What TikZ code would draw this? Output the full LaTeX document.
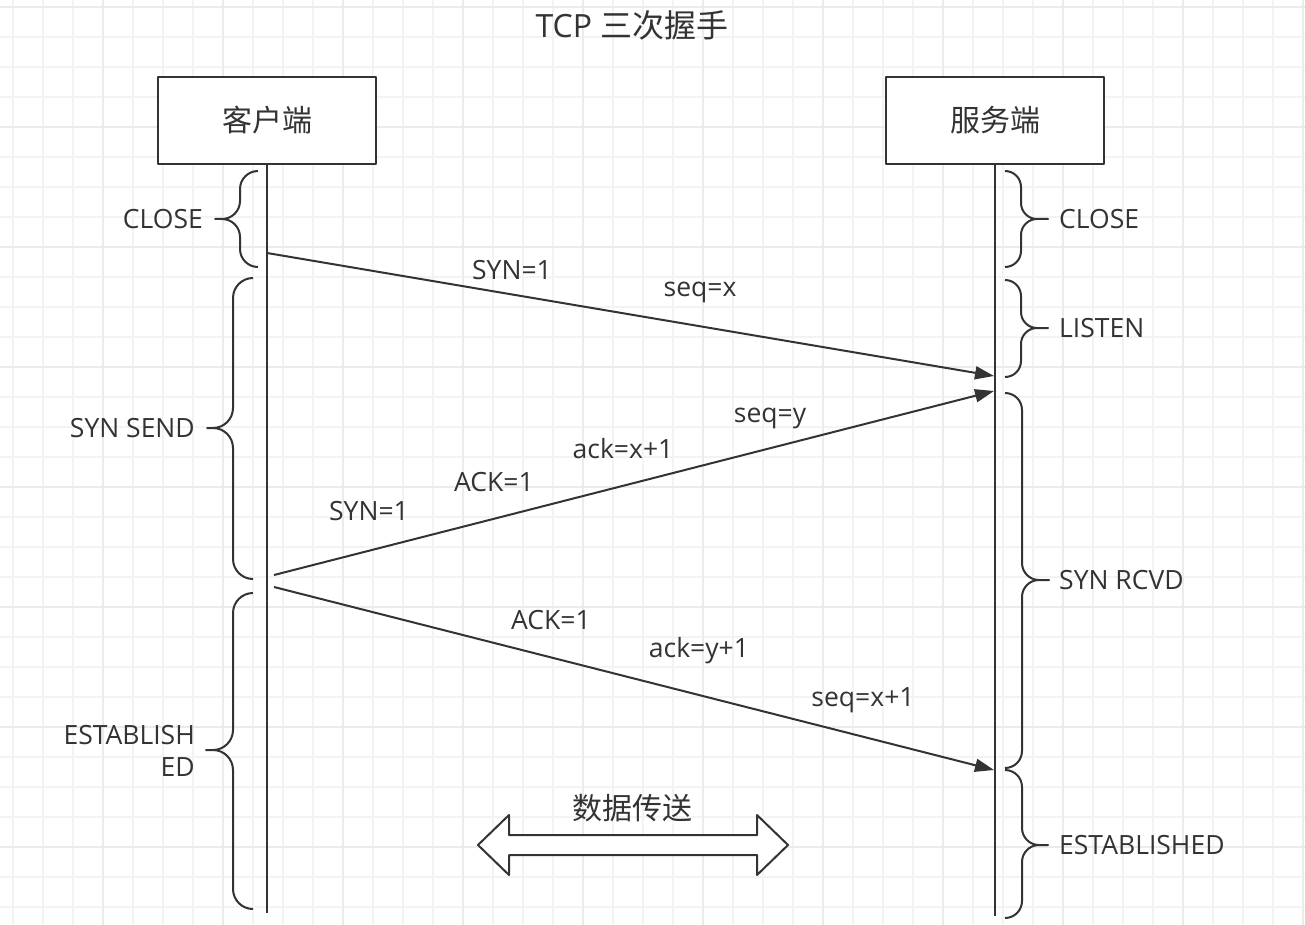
\documentclass[tikz,border=0pt]{standalone}
\usepackage{fontspec}
\setmainfont{Open Sans}
\newfontfamily\cjk{Noto Sans CJK SC}
\usetikzlibrary{arrows.meta}
\definecolor{ink}{HTML}{333333}
\definecolor{gridminor}{HTML}{F3F3F3}
\definecolor{gridmajor}{HTML}{EBEBEB}
% brace: #1 = vertical x, #2 = end x, #3 = tip x, #4 = top y, #5 = tip y, #6 = bottom y
\newcommand\mybrace[6]{%
  \draw[ln] (#2,#4) .. controls ({#1+0.448*(#2-#1)},#4) and (#1,{#4+0.448*abs(#2-#1)}) .. (#1,{#4+abs(#2-#1)})
    -- (#1,{#5-abs(#2-#1)}) .. controls (#1,{#5-0.448*abs(#2-#1)}) and ({#1-0.448*(#2-#1)},#5) .. ({#1-(#2-#1)},#5)
    -- (#3,#5) -- ({#1-(#2-#1)},#5)
    .. controls ({#1-0.448*(#2-#1)},#5) and (#1,{#5+0.448*abs(#2-#1)}) .. (#1,{#5+abs(#2-#1)})
    -- (#1,{#6-abs(#2-#1)}) .. controls (#1,{#6-0.448*abs(#2-#1)}) and ({#1+0.448*(#2-#1)},#6) .. (#2,#6);}
\begin{document}
\begin{tikzpicture}[x=1pt,y=-1pt,
  ln/.style={draw=ink, line width=2pt, line join=round},
  msg/.style={ln, -{Triangle[length=19pt,width=13pt]}},
  box/.style={ln, fill=white, minimum width=218pt, minimum height=87pt, inner sep=0pt, text=ink, font=\cjk\fontsize{30}{36}\selectfont},
  lbl/.style={text=ink, font=\fontsize{26.5}{32}\selectfont, inner sep=0pt},
  title/.style={text=ink, font=\fontsize{32}{38}\selectfont, inner sep=0pt}]
\useasboundingbox (0,0) rectangle (1305,925);
\fill[white] (0,0) rectangle (1305,925);
% grid
\foreach \k in {0,...,43} \draw[gridminor, line width=2pt] ({12.7+30*\k},0) -- ({12.7+30*\k},925);
\foreach \k in {0,...,30} \draw[gridminor, line width=2pt] (0,{6.7+30*\k}) -- (1305,{6.7+30*\k});
\foreach \k in {0,...,10} \draw[gridmajor, line width=2pt] ({102.7+120*\k},0) -- ({102.7+120*\k},925);
\foreach \k in {0,...,7} \draw[gridmajor, line width=2pt] (0,{6.7+120*\k}) -- (1305,{6.7+120*\k});

% title
\node[title] (ttl) at (632,25) {TCP {\cjk 三次握手}};

% participants
\node[box] (client) at (267,120.5) {客户端};
\node[box] (server) at (995,120.5) {服务端};
\coordinate (cend) at (267,913);
\coordinate (send) at (995,916);
\draw[ln] (client.south) -- (cend);
\draw[ln] (server.south) -- (send);

% client braces
\mybrace{240}{258}{215}{171}{219}{267}
\mybrace{233}{253}{207}{278}{428}{579}
\mybrace{233}{253}{206}{593}{750}{909}
\node[lbl, anchor=east] (cclose) at (203,219) {CLOSE};
\node[lbl, anchor=east] (csyn) at (195,428) {SYN SEND};
\node[lbl, anchor=east, align=right] (cest) at (195,751) {ESTABLISH\\ED};

% server braces
\mybrace{1021}{1005}{1048}{171}{219}{267}
\mybrace{1021}{1005}{1048}{280}{328}{377}
\mybrace{1022}{1005}{1049}{393}{580}{768}
\mybrace{1022}{1005}{1048}{770}{845}{918}
\node[lbl, anchor=west] (sclose) at (1059,219) {CLOSE};
\node[lbl, anchor=west] (slisten) at (1059,328) {LISTEN};
\node[lbl, anchor=west] (srcvd) at (1059,580) {SYN RCVD};
\node[lbl, anchor=west] (sest) at (1059,845) {ESTABLISHED};

% messages
\coordinate (c1) at (267,253);
\coordinate (s1) at (994,376);
\coordinate (c2) at (274,575);
\coordinate (s2) at (994,391);
\coordinate (c3) at (274,587);
\coordinate (s3) at (994,770);
\draw[msg] (c1) -- (s1);
\draw[msg] (c2) -- (s2);
\draw[msg] (c3) -- (s3);

\node[lbl] (m1a) at (512,270) {SYN=1};
\node[lbl] (m1b) at (700,292) {seq=x};
\node[lbl] (m2a) at (770,418) {seq=y};
\node[lbl] (m2b) at (623,449) {ack=x+1};
\node[lbl] (m2c) at (494,482) {ACK=1};
\node[lbl] (m2d) at (369,511) {SYN=1};
\node[lbl] (m3a) at (551,620) {ACK=1};
\node[lbl] (m3b) at (699,651) {ack=y+1};
\node[lbl] (m3c) at (863,700) {seq=x+1};

% data transfer
\draw[ln, fill=white] (478,845) -- (509,815) -- (509,835) -- (757,835) -- (757,815) -- (788,845)
  -- (757,875) -- (757,855) -- (509,855) -- (509,875) -- cycle;
\node[text=ink, inner sep=0pt, font=\cjk\fontsize{30}{36}\selectfont] (data) at (632,808) {数据传送};
\end{tikzpicture}
\end{document}
